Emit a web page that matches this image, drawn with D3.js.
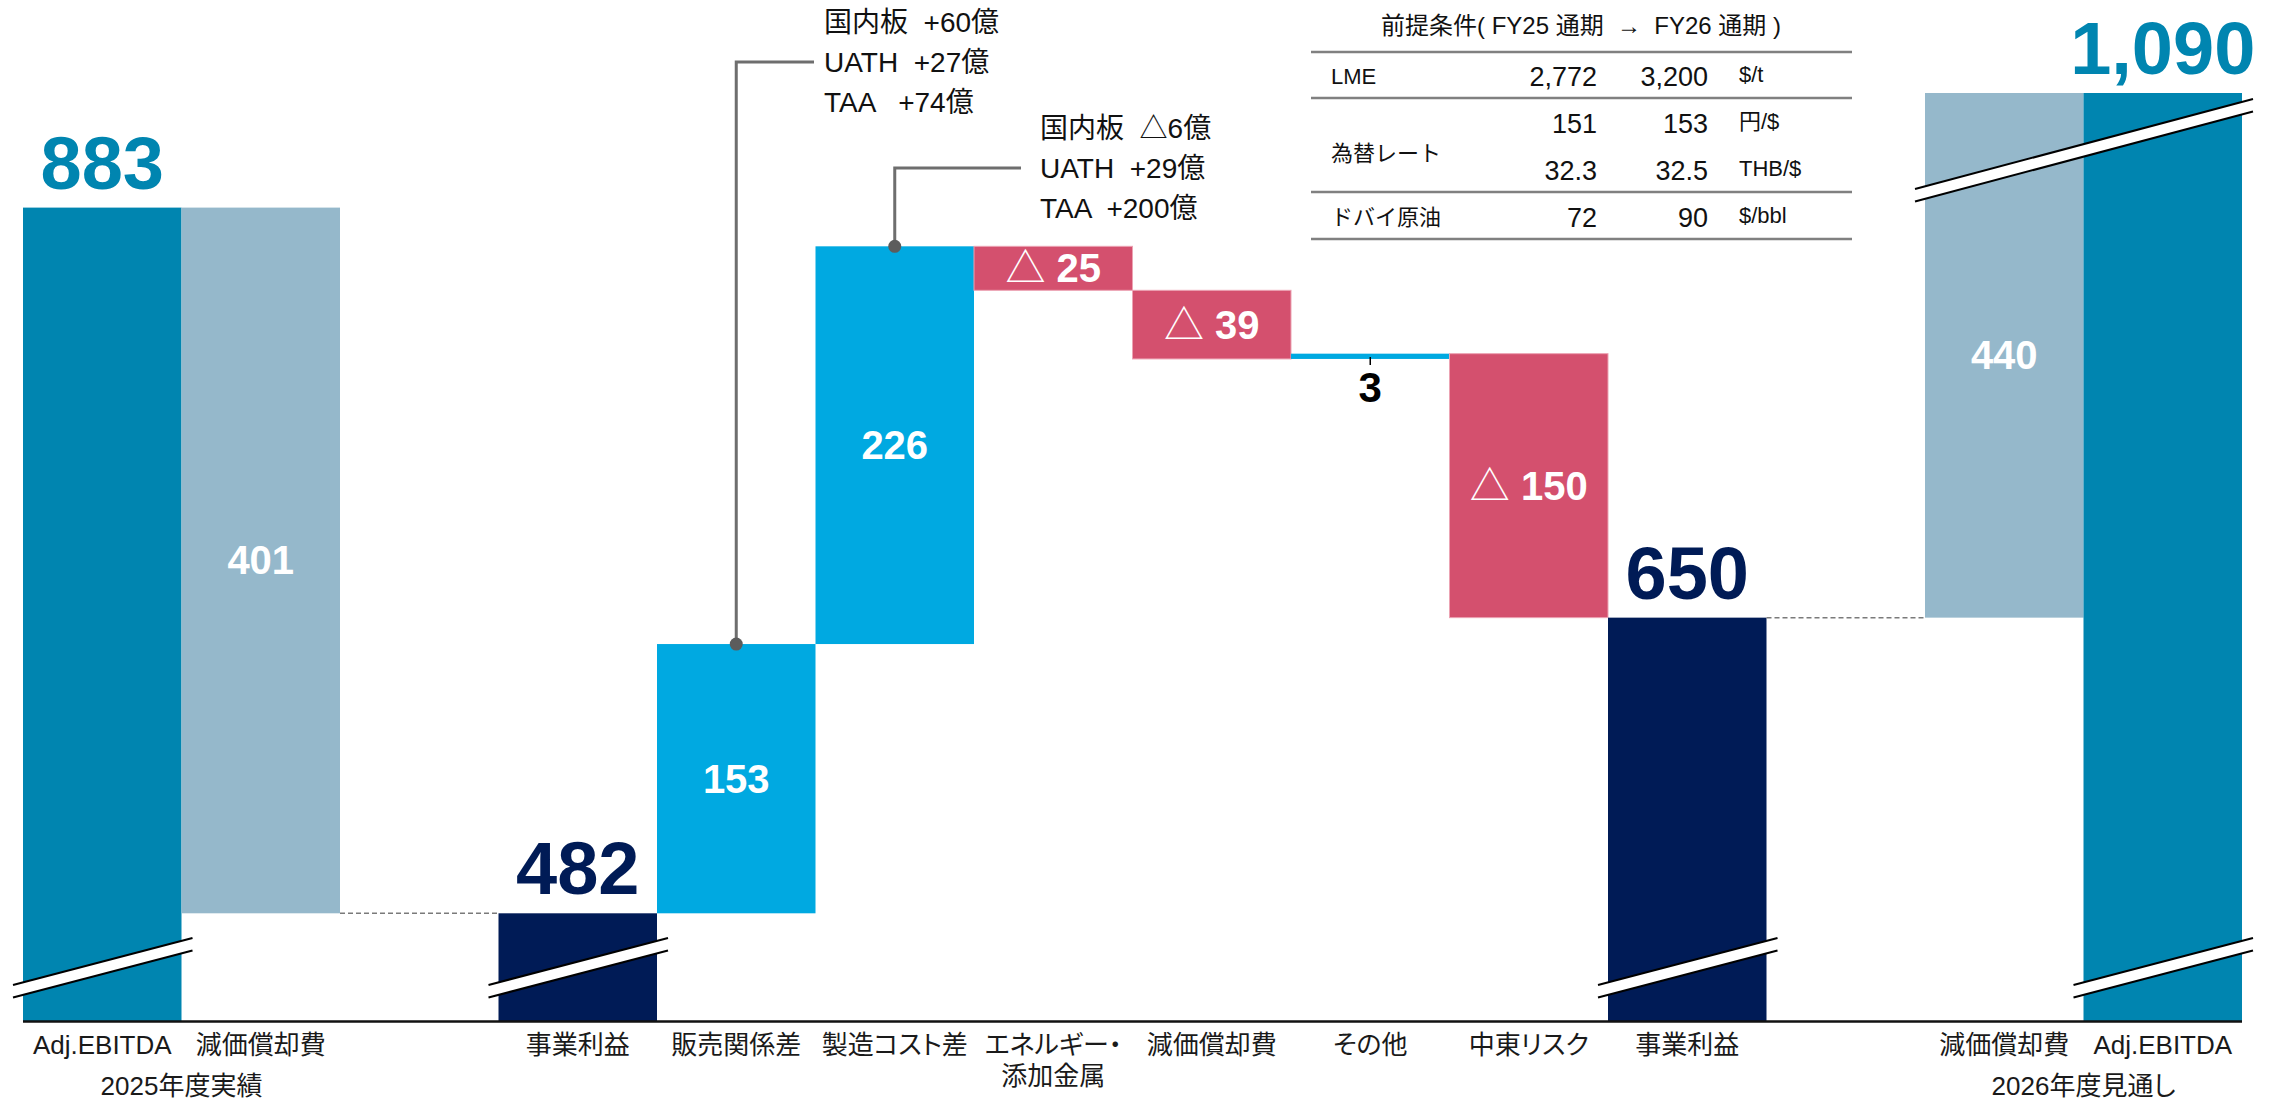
<!DOCTYPE html>
<html>
<head>
<meta charset="utf-8">
<script src="https://cdn.jsdelivr.net/npm/d3@7"></script>
<style>
  html, body { margin: 0; padding: 0; background: #ffffff; }
  svg { display: block; }
  text { font-family: "Liberation Sans", Arial, "Noto Sans CJK JP", sans-serif; white-space: pre; }
  text.cat { font-feature-settings: "palt"; }
</style>
</head>
<body>
<svg id="chart" width="2277" height="1100"></svg>
<script>
// ---- Bridge data: 事業利益 2025年度実績 → 2026年度見通し (億円) ----
// null entries are empty spacer columns between the groups
const categories = ["Adj.EBITDA", "減価償却費", null, "事業利益", "販売関係差", "製造コスト差",
                    "エネルギー・\n添加金属", "減価償却費", "その他", "中東リスク", "事業利益", null,
                    "減価償却費", "Adj.EBITDA"];
const values     = [883, -401, null, 482, 153, 226, -25, -39, 3, -150, 650, null, 440, 1090];
const barTypes   = ["ebitda", "depr", null, "profit", "up", "up", "down", "down", "up", "down", "profit", null, "depr", "ebitda"];

// Period captions under the outer column pairs
const periodLabels  = ["2025年度実績", "2026年度見通し"];
const periodColumns = [[0, 1], [12, 13]];

// Breakdown call-outs attached to columns
const noteColumns = [4, 5];
const noteLines = [
  ["国内板  +60億", "UATH  +27億", "TAA   +74億"],
  ["国内板  △6億", "UATH  +29億", "TAA  +200億"]
];

// 前提条件 table
const condTitle = "前提条件( FY25 通期  →  FY26 通期 )";
const condItems = ["LME", "為替レート", "ドバイ原油"];
const condItemRows = [[0], [1, 2], [3]];
const condFY25  = ["2,772", "151", "32.3", "72"];
const condFY26  = ["3,200", "153", "32.5", "90"];
const condUnits = ["$/t", "円/$", "THB/$", "$/bbl"];

// ---- Styling ----
const colors = {
  ebitda: "#0085B0",
  depr:   "#95B8CB",
  profit: "#001B56",
  up:     "#00A9E1",
  down:   "#D4506E"
};

const svg = d3.select("#chart");

// Horizontal layout: one band per column
const x = d3.scaleBand()
  .domain(d3.range(categories.length))
  .range([23, 2242])
  .paddingInner(0).paddingOuter(0);

// Broken value axis: piecewise-linear, compressed below 482 and above 883
const y = d3.scaleLinear()
  .domain([0, 482, 883, 1090])
  .range([1021, 913.3, 207.6, 93]);

// Compute bar extents (running total for deltas)
let cum = 0;
const bars = [];
values.forEach((v, i) => {
  if (v === null) return;
  const t = barTypes[i];
  let lo, hi;
  if (t === "ebitda" || t === "profit") {
    lo = 0; hi = v; cum = v;
  } else {
    const next = cum + v;
    lo = Math.min(cum, next); hi = Math.max(cum, next);
    cum = next;
  }
  bars.push({ i, v, t, lo, hi });
});
const barByCol = new Map(bars.map(b => [b.i, b]));

// Bars
svg.append("g").selectAll("rect")
  .data(bars)
  .join("rect")
  .attr("x", d => x(d.i))
  .attr("width", x.bandwidth())
  .attr("y", d => y(d.hi))
  .attr("height", d => Math.max(0, y(d.lo) - y(d.hi)))
  .attr("fill", d => colors[d.t])
  .attr("stroke", d => d.t === "down" ? "#ECA3B3" : "none")
  .attr("stroke-width", 1);

// Dashed connectors across the spacer columns (at the level shared by both sides)
const connectors = [[1, 3], [10, 12]];
const levelOf = d => {
  const b = barByCol.get(d[1]);
  return b.lo === 0 ? b.hi : b.lo;
};
svg.append("g").selectAll("line")
  .data(connectors)
  .join("line")
  .attr("x1", d => x(d[0]) + x.bandwidth())
  .attr("x2", d => x(d[1]))
  .attr("y1", d => y(levelOf(d)))
  .attr("y2", d => y(levelOf(d)))
  .attr("stroke", "#7a7a7a")
  .attr("stroke-width", 1.5)
  .attr("stroke-dasharray", "5,3");

// Baseline
svg.append("line")
  .attr("x1", x(0)).attr("x2", x(categories.length - 1) + x.bandwidth())
  .attr("y1", y(0) + 0.5).attr("y2", y(0) + 0.5)
  .attr("stroke", "#111").attr("stroke-width", 2.5);

// Axis break marks: white slanted band bounded by two black lines
function breakMark(x0, x1, yL, yR) {
  const g = svg.append("g");
  const gap = 12.5;
  g.append("path")
    .attr("d", `M${x0},${yL}L${x1},${yR}L${x1},${yR + gap}L${x0},${yL + gap}Z`)
    .attr("fill", "#fff");
  [0, gap].forEach(o => {
    g.append("line")
      .attr("x1", x0).attr("y1", yL + o)
      .attr("x2", x1).attr("y2", yR + o)
      .attr("stroke", "#000").attr("stroke-width", 2);
  });
}
// lower breaks on the total columns
[0, 3, 10, 13].forEach(i => {
  const x0 = x(i) - 10, x1 = x(i) + x.bandwidth() + 11;
  breakMark(x0, x1, y(0) - 36, y(0) - 83);
});
// upper break across the 2026 pair
breakMark(x(12) - 10, x(13) + x.bandwidth() + 11, 189, 99);

// Value labels
const fmt = d3.format(",");
const labels = svg.append("g");
bars.forEach(b => {
  const cx = x(b.i) + x.bandwidth() / 2;
  if (b.t === "ebitda" || b.t === "profit") {
    labels.append("text")
      .attr("x", cx).attr("y", y(b.hi) - 19)
      .attr("text-anchor", "middle")
      .attr("font-size", 74).attr("font-weight", "bold")
      .attr("fill", colors[b.t])
      .text(fmt(b.v));
    return;
  }
  const top = y(b.hi), bot = y(b.lo);
  if (bot - top >= 30) {
    const t = labels.append("text")
      .attr("x", cx).attr("y", (top + bot) / 2 + 14)
      .attr("text-anchor", "middle")
      .attr("font-size", 40).attr("font-weight", "bold")
      .attr("fill", "#fff");
    // depreciation is shown as an amount; other decreases get the △ mark
    if (b.v < 0 && b.t !== "depr") {
      t.append("tspan").attr("font-weight", "normal")
        .style("font-family", "'Noto Sans CJK JP', sans-serif").text("△");
      t.append("tspan").text(" " + fmt(-b.v));
    } else {
      t.text(fmt(Math.abs(b.v)));
    }
  } else {
    // thin bar: tick and label underneath
    labels.append("line")
      .attr("x1", cx).attr("x2", cx)
      .attr("y1", bot - 2).attr("y2", bot + 6)
      .attr("stroke", "#000").attr("stroke-width", 1.5);
    labels.append("text")
      .attr("x", cx).attr("y", bot + 43)
      .attr("text-anchor", "middle")
      .attr("font-size", 42).attr("font-weight", "bold")
      .attr("fill", "#000")
      .text(fmt(b.v));
  }
});

// Category labels
const catG = svg.append("g");
categories.forEach((c, i) => {
  if (c === null) return;
  const cx = x(i) + x.bandwidth() / 2;
  c.split("\n").forEach((line, k) => {
    catG.append("text")
      .attr("class", "cat")
      .attr("x", cx).attr("y", 1054 + k * 31)
      .attr("text-anchor", "middle")
      .attr("font-size", 26)
      .attr("fill", "#1a1a1a")
      .text(line);
  });
});
periodLabels.forEach((p, k) => {
  const cols = periodColumns[k];
  const cx = (x(cols[0]) + x(cols[cols.length - 1]) + x.bandwidth()) / 2;
  catG.append("text")
    .attr("class", "cat")
    .attr("x", cx).attr("y", 1095)
    .attr("text-anchor", "middle")
    .attr("font-size", 26)
    .attr("fill", "#1a1a1a")
    .text(p);
});

// Call-outs
const noteLayout = [
  { midY: 62,  lineEnd: 814,  textX: 824 },
  { midY: 168, lineEnd: 1021, textX: 1040 }
];
const notesG = svg.append("g");
noteColumns.forEach((col, k) => {
  const b = barByCol.get(col);
  const cx = x(col) + x.bandwidth() / 2;
  const cy = y(b.hi);
  const L = noteLayout[k];
  notesG.append("path")
    .attr("d", `M${cx},${cy}V${L.midY}H${L.lineEnd}`)
    .attr("fill", "none").attr("stroke", "#6e6e6e").attr("stroke-width", 3);
  notesG.append("circle")
    .attr("cx", cx).attr("cy", cy).attr("r", 6.5)
    .attr("fill", "#5c5c5c");
  noteLines[k].forEach((line, j) => {
    notesG.append("text")
      .attr("x", L.textX).attr("y", L.midY + (j - 1) * 40 + 10)
      .attr("font-size", 28)
      .attr("fill", "#111")
      .text(line);
  });
});

// 前提条件 table
const tbl = svg.append("g");
const tLeft = 1311, tRight = 1852;
const rowCenters = [76, 123, 170, 217];
tbl.append("text")
  .attr("x", 1581).attr("y", 34)
  .attr("text-anchor", "middle")
  .attr("font-size", 24).attr("fill", "#111")
  .text(condTitle);
[52, 98, 192, 239].forEach(ry => {
  tbl.append("line")
    .attr("x1", tLeft).attr("x2", tRight)
    .attr("y1", ry).attr("y2", ry)
    .attr("stroke", "#808080").attr("stroke-width", 2.5);
});
condItems.forEach((item, k) => {
  const rows = condItemRows[k];
  const cy = d3.mean(rows, r => rowCenters[r]) + (rows.length > 1 ? 6 : 0);
  tbl.append("text")
    .attr("x", 1331).attr("y", cy + 8)
    .attr("font-size", 22).attr("fill", "#111")
    .text(item);
});
rowCenters.forEach((cy, r) => {
  tbl.append("text")
    .attr("x", 1597).attr("y", cy + 10)
    .attr("text-anchor", "end")
    .attr("font-size", 27).attr("fill", "#111")
    .text(condFY25[r]);
  tbl.append("text")
    .attr("x", 1708).attr("y", cy + 10)
    .attr("text-anchor", "end")
    .attr("font-size", 27).attr("fill", "#111")
    .text(condFY26[r]);
  tbl.append("text")
    .attr("x", 1739).attr("y", cy + 6)
    .attr("font-size", 22).attr("fill", "#111")
    .text(condUnits[r]);
});
</script>
</body>
</html>
